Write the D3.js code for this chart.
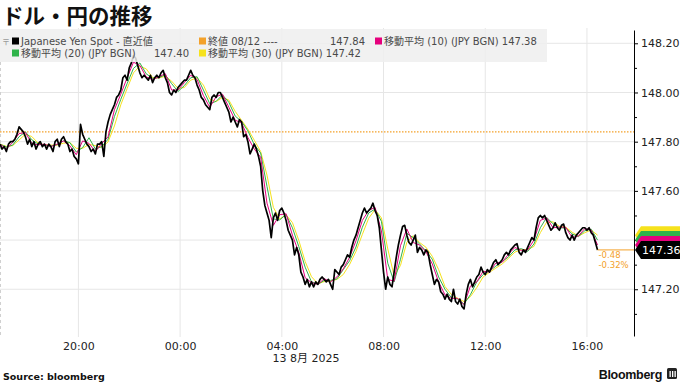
<!DOCTYPE html>
<html><head><meta charset="utf-8">
<script src="https://cdn.jsdelivr.net/npm/d3@7"></script>
<style>
body{margin:0;background:#fff;}
svg{display:block;font-family:"DejaVu Sans","Noto Sans CJK JP",sans-serif;}
</style></head><body>
<svg id="c" width="680" height="382"></svg>
<script>
// ---- data ----
const spotStart = "2025-08-12 16:55";   // first 5-minute observation
const spotStepMinutes = 5;
const spot = [
147.79,147.77,147.78,147.76,147.79,147.80,147.80,147.81,147.83,147.86,
147.85,147.84,147.82,147.79,147.81,147.78,147.80,147.77,147.79,147.80,
147.78,147.79,147.77,147.79,147.78,147.76,147.80,147.81,147.78,147.81,
147.82,147.80,147.79,147.76,147.77,147.74,147.73,147.71,147.87,147.83,
147.81,147.79,147.78,147.76,147.77,147.75,147.79,147.79,147.80,147.74,
147.84,147.88,147.91,147.93,147.95,147.98,147.99,148.01,148.06,148.07,
148.05,148.10,148.12,148.15,148.14,148.11,148.08,148.06,148.07,148.06,
148.05,148.07,148.04,148.06,148.07,148.06,148.08,148.09,148.06,148.04,
148.00,147.99,148.01,148.00,148.02,148.03,148.04,148.05,148.05,148.07,
148.09,148.07,148.06,148.03,148.01,147.98,147.97,147.95,147.94,147.93,
147.98,147.99,147.98,148.00,148.00,147.98,147.96,147.94,147.92,147.88,
147.90,147.88,147.86,147.89,147.88,147.82,147.83,147.80,147.75,147.77,
147.79,147.77,147.74,147.70,147.60,147.54,147.51,147.48,147.41,147.49,
147.51,147.48,147.52,147.53,147.51,147.48,147.44,147.42,147.40,147.34,
147.37,147.34,147.27,147.25,147.22,147.24,147.21,147.23,147.21,147.23,
147.22,147.24,147.25,147.24,147.23,147.24,147.22,147.20,147.28,147.27,
147.26,147.29,147.30,147.32,147.34,147.33,147.37,147.40,147.42,147.45,
147.48,147.51,147.53,147.51,147.52,147.53,147.55,147.52,147.50,147.45,
147.36,147.27,147.20,147.25,147.22,147.21,147.27,147.33,147.38,147.42,
147.455,147.46,147.42,147.39,147.38,147.40,147.42,147.35,147.37,147.36,
147.34,147.36,147.35,147.30,147.26,147.22,147.24,147.23,147.19,147.18,
147.16,147.18,147.16,147.15,147.20,147.15,147.14,147.16,147.13,147.12,
147.18,147.22,147.24,147.21,147.23,147.25,147.26,147.29,147.27,147.26,
147.28,147.27,147.29,147.31,147.32,147.30,147.31,147.32,147.34,147.35,
147.34,147.36,147.37,147.38,147.385,147.35,147.34,147.36,147.35,147.37,
147.39,147.41,147.40,147.45,147.49,147.50,147.49,147.50,147.48,147.46,
147.44,147.45,147.47,147.45,147.44,147.46,147.465,147.43,147.41,147.40,
147.42,147.40,147.42,147.43,147.44,147.45,147.45,147.44,147.45,147.43,
147.42,147.39,147.36
];
const maStart = "2025-08-12 16:55";     // moving averages read every 15 minutes
const maStepMinutes = 15;
const ma10 = [
147.79,147.77,147.797,147.833,147.837,147.793,147.787,147.79,147.78,147.79,
147.803,147.783,147.747,147.803,147.793,147.76,147.793,147.82,147.93,147.993,
148.06,148.123,148.11,148.063,148.053,148.063,148.077,148.01,148.01,148.04,
148.07,148.053,147.987,147.94,147.983,147.993,147.94,147.887,147.877,147.817,
147.77,147.737,147.55,147.46,147.503,147.507,147.42,147.35,147.247,147.227,
147.22,147.243,147.23,147.25,147.283,147.33,147.397,147.48,147.52,147.533,
147.437,147.24,147.233,147.377,147.445,147.39,147.38,147.353,147.303,147.23,
147.177,147.163,147.163,147.137,147.213,147.23,147.273,147.27,147.307,147.31,
147.343,147.37,147.358,147.36,147.40,147.48,147.49,147.45,147.453,147.452,
147.41,147.417,147.447,147.44,147.38
];
const ma20 = [
147.79,147.778,147.786,147.82,147.84,147.808,147.79,147.786,147.782,147.788,
147.804,147.796,147.758,147.776,147.816,147.77,147.78,147.81,147.902,147.972,
148.036,148.098,148.12,148.076,148.058,148.06,148.072,148.036,148.004,148.028,
148.06,148.064,148.01,147.954,147.964,147.99,147.96,147.904,147.882,147.844,
147.788,147.754,147.618,147.486,147.482,147.504,147.45,147.374,147.29,147.23,
147.22,147.236,147.236,147.242,147.28,147.316,147.372,147.452,147.51,147.526,
147.476,147.306,147.23,147.322,147.427,147.41,147.384,147.356,147.322,147.25,
147.20,147.166,147.16,147.14,147.178,147.23,147.26,147.274,147.294,147.312,
147.332,147.36,147.365,147.354,147.384,147.45,147.492,147.466,147.45,147.449,
147.425,147.414,147.438,147.444,147.40
];
const ma30 = [
147.79,147.781,147.784,147.807,147.83,147.821,147.794,147.787,147.786,147.786,
147.794,147.796,147.773,147.773,147.789,147.784,147.777,147.799,147.864,147.95,
148.016,148.08,148.107,148.096,148.061,148.059,148.066,148.046,148.017,148.02,
148.05,148.06,148.03,147.973,147.963,147.98,147.969,147.923,147.887,147.851,
147.806,147.76,147.664,147.533,147.486,147.503,147.471,147.399,147.313,147.251,
147.223,147.231,147.234,147.24,147.26,147.301,147.354,147.423,147.489,147.524,
147.49,147.364,147.254,147.297,147.391,147.418,147.39,147.371,147.334,147.28,
147.211,147.179,147.163,147.15,147.17,147.207,147.25,147.269,147.286,147.303,
147.326,147.351,147.361,147.362,147.374,147.43,147.473,147.474,147.456,147.452,
147.432,147.416,147.43,147.441,147.42
];
const prevClose = 147.84;
const prevCloseDate = "08/12";
const yTicks = [147.20,147.40,147.60,147.80,148.00,148.20];
const yMinorTicks = [147.10,147.30,147.50,147.70,147.90,148.10];
const xTickTimes = ["2025-08-12 20:00","2025-08-13 00:00","2025-08-13 04:00","2025-08-13 08:00","2025-08-13 12:00","2025-08-13 16:00"];
const xTickLabels = ["20:00","00:00","04:00","08:00","12:00","16:00"];
const xDomain = ["2025-08-12 16:55","2025-08-13 17:51"];
const yDomain = [147.01, 148.254];
const dateLabel = "13 8月 2025";
const title = "ドル・円の推移";
const seriesNames = ["Japanese Yen Spot - 直近値","移動平均 (10) (JPY BGN)","移動平均 (20) (JPY BGN)","移動平均 (30) (JPY BGN)"];

// ---- drawing ----
const parse = d3.timeParse("%Y-%m-%d %H:%M");
const f2 = v => v.toFixed(2);
const svg = d3.select("#c");
const C = {black:"#000", mag:"#e5007d", green:"#2fb34a", yellow:"#f6e21c", orange:"#f3a12a", grid:"#e6e6e6"};
const plotL = 0, plotR = 634, plotT = 30, plotB = 336;

const x = d3.scaleTime().domain(xDomain.map(parse)).range([plotL, plotR]);
const y = d3.scaleLinear().domain(yDomain).range([plotB, plotT]);

const t0 = parse(spotStart), m0 = parse(maStart);
const spotData = spot.map((v,i)=>({t:d3.timeMinute.offset(t0, i*spotStepMinutes), v}));
const maData = arr => arr.map((v,i)=>({t:d3.timeMinute.offset(m0, i*maStepMinutes), v}));

// title
svg.append("text").attr("x",2).attr("y",24).attr("font-size",21.5).attr("font-weight","bold")
  .attr("font-family","'Noto Sans CJK JP',sans-serif").attr("fill","#111").text(title);

// grid
const g = svg.append("g");
g.selectAll("line.h").data(yTicks).join("line").attr("x1",plotL).attr("x2",plotR)
  .attr("y1",d=>y(d)).attr("y2",d=>y(d)).attr("stroke",C.grid).attr("stroke-width",1);
g.selectAll("line.v").data(xTickTimes.map(parse)).join("line").attr("x1",d=>x(d)).attr("x2",d=>x(d))
  .attr("y1",28).attr("y2",plotB+1).attr("stroke",C.grid).attr("stroke-width",1);
g.append("line").attr("x1",0.5).attr("x2",0.5).attr("y1",62).attr("y2",plotB)
  .attr("stroke","#d0d0d0").attr("stroke-dasharray","3,3");

// previous close
svg.append("line").attr("x1",plotL).attr("x2",plotR).attr("y1",y(prevClose)).attr("y2",y(prevClose))
  .attr("stroke",C.orange).attr("stroke-width",1.4).attr("stroke-dasharray","1.5,1.5");

// lines
const line = d3.line().x(d=>x(d.t)).y(d=>y(d.v));
[[ma30,C.yellow],[ma20,C.green],[ma10,C.mag]].forEach(([a,col])=>{
  svg.append("path").datum(maData(a)).attr("d",line).attr("fill","none").attr("stroke",col).attr("stroke-width",1);
});
svg.append("path").datum(spotData).attr("d",line).attr("fill","none").attr("stroke",C.black)
  .attr("stroke-width",1.7).attr("stroke-linejoin","round");

// last-value connector & change
const last = spotData[spotData.length-1];
svg.append("line").attr("x1",x(last.t)).attr("x2",plotR).attr("y1",y(last.v)).attr("y2",y(last.v))
  .attr("stroke",C.orange).attr("stroke-width",1);
const chg = last.v - prevClose;
svg.append("text").attr("x",x(last.t)+1).attr("y",y(last.v)+8).attr("font-size",8.5).attr("fill",C.orange)
  .text(f2(chg));
svg.append("text").attr("x",x(last.t)+1).attr("y",y(last.v)+18).attr("font-size",8.5).attr("fill",C.orange)
  .text(f2(chg/prevClose*100)+"%");

// y axis
const ya = svg.append("g").attr("transform",`translate(${plotR},0)`)
  .call(d3.axisRight(y).tickValues(yTicks).tickSize(4).tickSizeOuter(0).tickPadding(3).tickFormat(f2));
ya.select(".domain").attr("stroke","#000");
ya.selectAll("text").attr("font-size",11).attr("font-family","DejaVu Sans").attr("fill","#222");
const ym = svg.append("g").attr("transform",`translate(${plotR},0)`)
  .call(d3.axisRight(y).tickValues(yMinorTicks).tickSize(3).tickFormat(""));
ym.select(".domain").remove();

// x axis
const xa = svg.append("g").attr("transform",`translate(0,${plotB})`)
  .call(d3.axisBottom(x).tickValues(xTickTimes.map(parse)).tickSize(0).tickPadding(6)
    .tickFormat((d,i)=>xTickLabels[i]));
xa.select(".domain").remove();
xa.selectAll("text").attr("font-size",11).attr("font-family","DejaVu Sans").attr("fill","#222");
svg.append("text").attr("x",306).attr("y",362).attr("text-anchor","middle").attr("font-size",11)
  .attr("fill","#222").text(dateLabel);

// end labels
const endLabels = [[ma30,C.yellow,"#222",10],[ma20,C.green,"#fff",10],[ma10,C.mag,"#fff",10],[spot,C.black,"#fff",11]];
endLabels.forEach(([a,col,tc,fs])=>{
  const v = a[a.length-1], cy = y(v);
  svg.append("path").attr("d",`M${plotR+1},${cy} L${plotR+7},${cy-9} L680,${cy-9} L680,${cy+9} L${plotR+7},${cy+9} Z`)
    .attr("fill",col);
  svg.append("text").attr("x",642).attr("y",cy+4).attr("font-size",fs).attr("fill",tc).text(f2(v));
});

// legend
const lg = svg.append("g");
lg.append("rect").attr("x",0).attr("y",29).attr("width",547).attr("height",33).attr("fill","#efefef").attr("opacity",0.85);
lg.append("text").attr("x",2).attr("y",45).attr("font-size",8).attr("fill","#999").text("〒");
const lt = "#4a4a4a";
const items = [
  {x:12,y:44.5,c:C.black,t:seriesNames[0]},
  {x:199,y:44.5,c:C.orange,t:"終値 "+prevCloseDate+" ----"},
  {x:375,y:44.5,c:C.mag,t:seriesNames[1]+" "+f2(ma10[ma10.length-1])},
  {x:12,y:56.5,c:C.green,t:seriesNames[2]},
  {x:199,y:56.5,c:C.yellow,t:seriesNames[3]+" "+f2(ma30[ma30.length-1])}
];
items.forEach(it=>{
  lg.append("rect").attr("x",it.x).attr("y",it.y-7).attr("width",7).attr("height",7).attr("fill",it.c);
  lg.append("text").attr("x",it.x+9).attr("y",it.y).attr("font-size",10).attr("fill",lt).text(it.t);
});
lg.append("text").attr("x",365).attr("y",44.5).attr("text-anchor","end").attr("font-size",10).attr("fill",lt)
  .text(f2(prevClose));
lg.append("text").attr("x",189).attr("y",56.5).attr("text-anchor","end").attr("font-size",10).attr("fill",lt)
  .text(f2(ma20[ma20.length-1]));

// footer
svg.append("text").attr("x",3).attr("y",380).attr("font-size",9.5).attr("font-weight","bold").attr("fill","#111").text("Source: bloomberg");
svg.append("text").attr("x",662).attr("y",379).attr("text-anchor","end").attr("font-size",12.5).attr("font-weight","bold")
  .attr("font-family","Liberation Sans").attr("letter-spacing",-0.3).attr("fill","#111").text("Bloomberg");
svg.append("rect").attr("x",667).attr("y",368).attr("width",10).attr("height",11).attr("rx",1.5).attr("fill","#222");
[669.5,672,674.5].forEach(bx=>svg.append("rect").attr("x",bx).attr("y",371).attr("width",1.3).attr("height",6).attr("fill","#fff"));
</script>
</body></html>
